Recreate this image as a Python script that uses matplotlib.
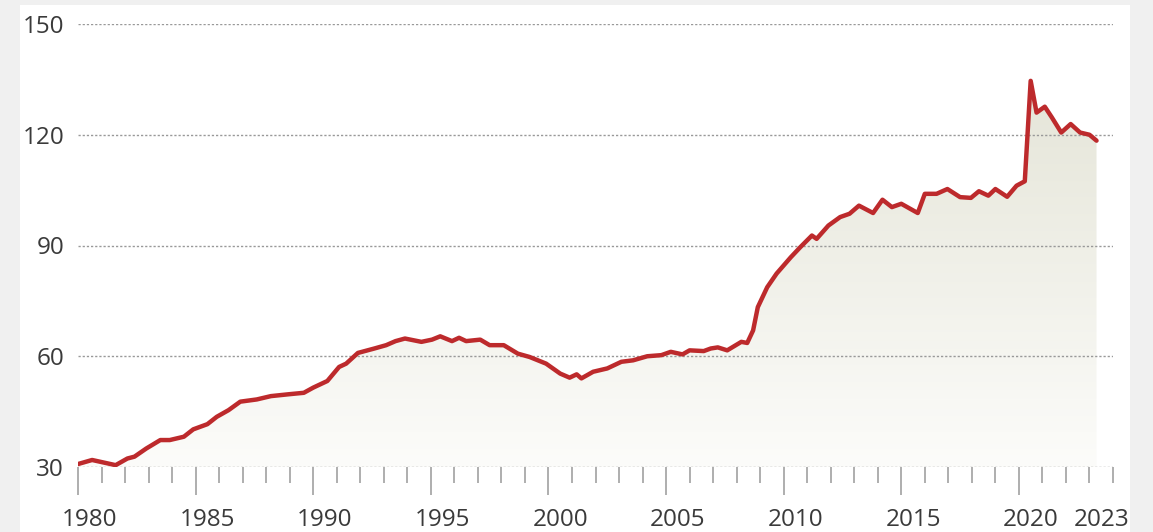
import numpy as np
import matplotlib
matplotlib.use("Agg")
import matplotlib.pyplot as plt
from matplotlib.colors import LinearSegmentedColormap
from matplotlib.patches import Rectangle

# Index values read at irregular points in time (decimal years)
years = [1980.0, 1980.6, 1981.1, 1981.6, 1982.1, 1982.4, 1982.9, 1983.5, 1983.9,
         1984.5, 1984.9, 1985.5, 1985.9, 1986.4, 1986.9, 1987.6, 1988.2, 1988.95,
         1989.6, 1990.0, 1990.6, 1991.1, 1991.4, 1991.9, 1992.6, 1993.1, 1993.5,
         1993.9, 1994.6, 1995.05, 1995.4, 1995.9, 1996.2, 1996.5, 1997.1, 1997.5,
         1998.1, 1998.7, 1999.2, 1999.9, 2000.5, 2000.9, 2001.2, 2001.4, 2001.9,
         2002.5, 2003.1, 2003.6, 2004.2, 2004.8, 2005.2, 2005.7, 2006.0, 2006.6,
         2006.9, 2007.2, 2007.6, 2008.2, 2008.45, 2008.7, 2008.9, 2009.3, 2009.7,
         2010.3, 2010.7, 2011.2, 2011.4, 2011.9, 2012.4, 2012.8, 2013.2, 2013.8,
         2014.2, 2014.6, 2015.0, 2015.7, 2016.0, 2016.5, 2016.96, 2017.5, 2017.96,
         2018.3, 2018.7, 2019.0, 2019.5, 2019.9, 2020.25, 2020.5, 2020.75, 2021.1,
         2021.4, 2021.8, 2022.2, 2022.6, 2023.0, 2023.3]
values = [30.8, 31.9, 31.2, 30.5, 32.3, 32.8, 35.0, 37.3, 37.3,
          38.2, 40.2, 41.6, 43.6, 45.4, 47.7, 48.3, 49.2, 49.7,
          50.1, 51.5, 53.3, 57.1, 58.0, 60.9, 62.1, 63.0, 64.1,
          64.8, 63.9, 64.5, 65.4, 64.1, 65.0, 64.1, 64.5, 63.0,
          63.0, 60.7, 59.8, 58.0, 55.3, 54.2, 55.1, 54.0, 55.8,
          56.7, 58.5, 58.9, 60.0, 60.3, 61.2, 60.5, 61.6, 61.4,
          62.1, 62.4, 61.6, 63.9, 63.6, 67.0, 73.3, 78.7, 82.4,
          86.8, 89.5, 92.7, 91.8, 95.4, 97.7, 98.6, 100.8, 98.8,
          102.4, 100.4, 101.3, 98.8, 104.0, 104.0, 105.3, 103.1, 102.9,
          104.7, 103.5, 105.3, 103.2, 106.2, 107.4, 134.6, 126.0, 127.6,
          124.7, 120.6, 122.9, 120.6, 120.0, 118.4]

y_ticks = [30, 60, 90, 120, 150]
major_years = list(range(1980, 2021, 5))
minor_years = list(range(1980, 2025))
label_years = [1980, 1985, 1990, 1995, 2000, 2005, 2010, 2015, 2020, 2023]

plt.rcParams['font.family'] = ['Open Sans', 'DejaVu Sans']
text_color = '#3a3a3a'
font_size = 17.5

fig = plt.figure(figsize=(11.53, 5.32), dpi=100, facecolor='#f0f0f0')
fig.patches.append(Rectangle((20 / 1153, 0), 1110 / 1153, 527 / 532,
                             transform=fig.transFigure, facecolor='white',
                             edgecolor='none', zorder=-1))

ax = fig.add_axes([78 / 1153, 65 / 532, 1035 / 1153, 443 / 532])
ax.set_facecolor('none')
ax.set_zorder(1)

# gradient fill under the curve
cmap = LinearSegmentedColormap.from_list('fill', ['#fcfcfa', '#e5e5d8'])
grad = np.linspace(0, 1, 256).reshape(-1, 1)
im = ax.imshow(grad, extent=[years[0], years[-1], 30, 135], origin='lower',
               aspect='auto', cmap=cmap, zorder=1)
area = ax.fill_between(years, values, 30, color='none', linewidth=0)
im.set_clip_path(area.get_paths()[0], transform=ax.transData)

for v in y_ticks:
    ax.axhline(v, color='#999999', linewidth=1.0, linestyle=(0, (1.6, 1.4)), zorder=2)

ax.plot(years, values, color='#bd2a2c', linewidth=3.2, solid_joinstyle='round',
        solid_capstyle='round', zorder=3)

ax.set_xlim(1980, 2024)
ax.set_ylim(30, 150)
for s in ax.spines.values():
    s.set_visible(False)

ax.set_yticks(y_ticks)
ax.tick_params(axis='y', length=0, pad=10, labelsize=font_size, labelcolor=text_color)

ax.set_xticks(major_years)
ax.set_xticks(minor_years, minor=True)
ax.tick_params(axis='x', which='major', length=20, width=1.1, color='#999999',
               labelbottom=False)
ax.tick_params(axis='x', which='minor', length=11.5, width=1.1, color='#999999')

# year labels sit in the middle of each year, under the tick marks
for yr in label_years:
    ax.annotate(str(yr), xy=(yr + 0.5, 0), xycoords=('data', 'axes fraction'),
                xytext=(0, -42.5), textcoords='offset points', ha='center', va='baseline',
                fontsize=font_size, color=text_color)

fig.savefig('out.png', dpi=100, facecolor=fig.get_facecolor())
